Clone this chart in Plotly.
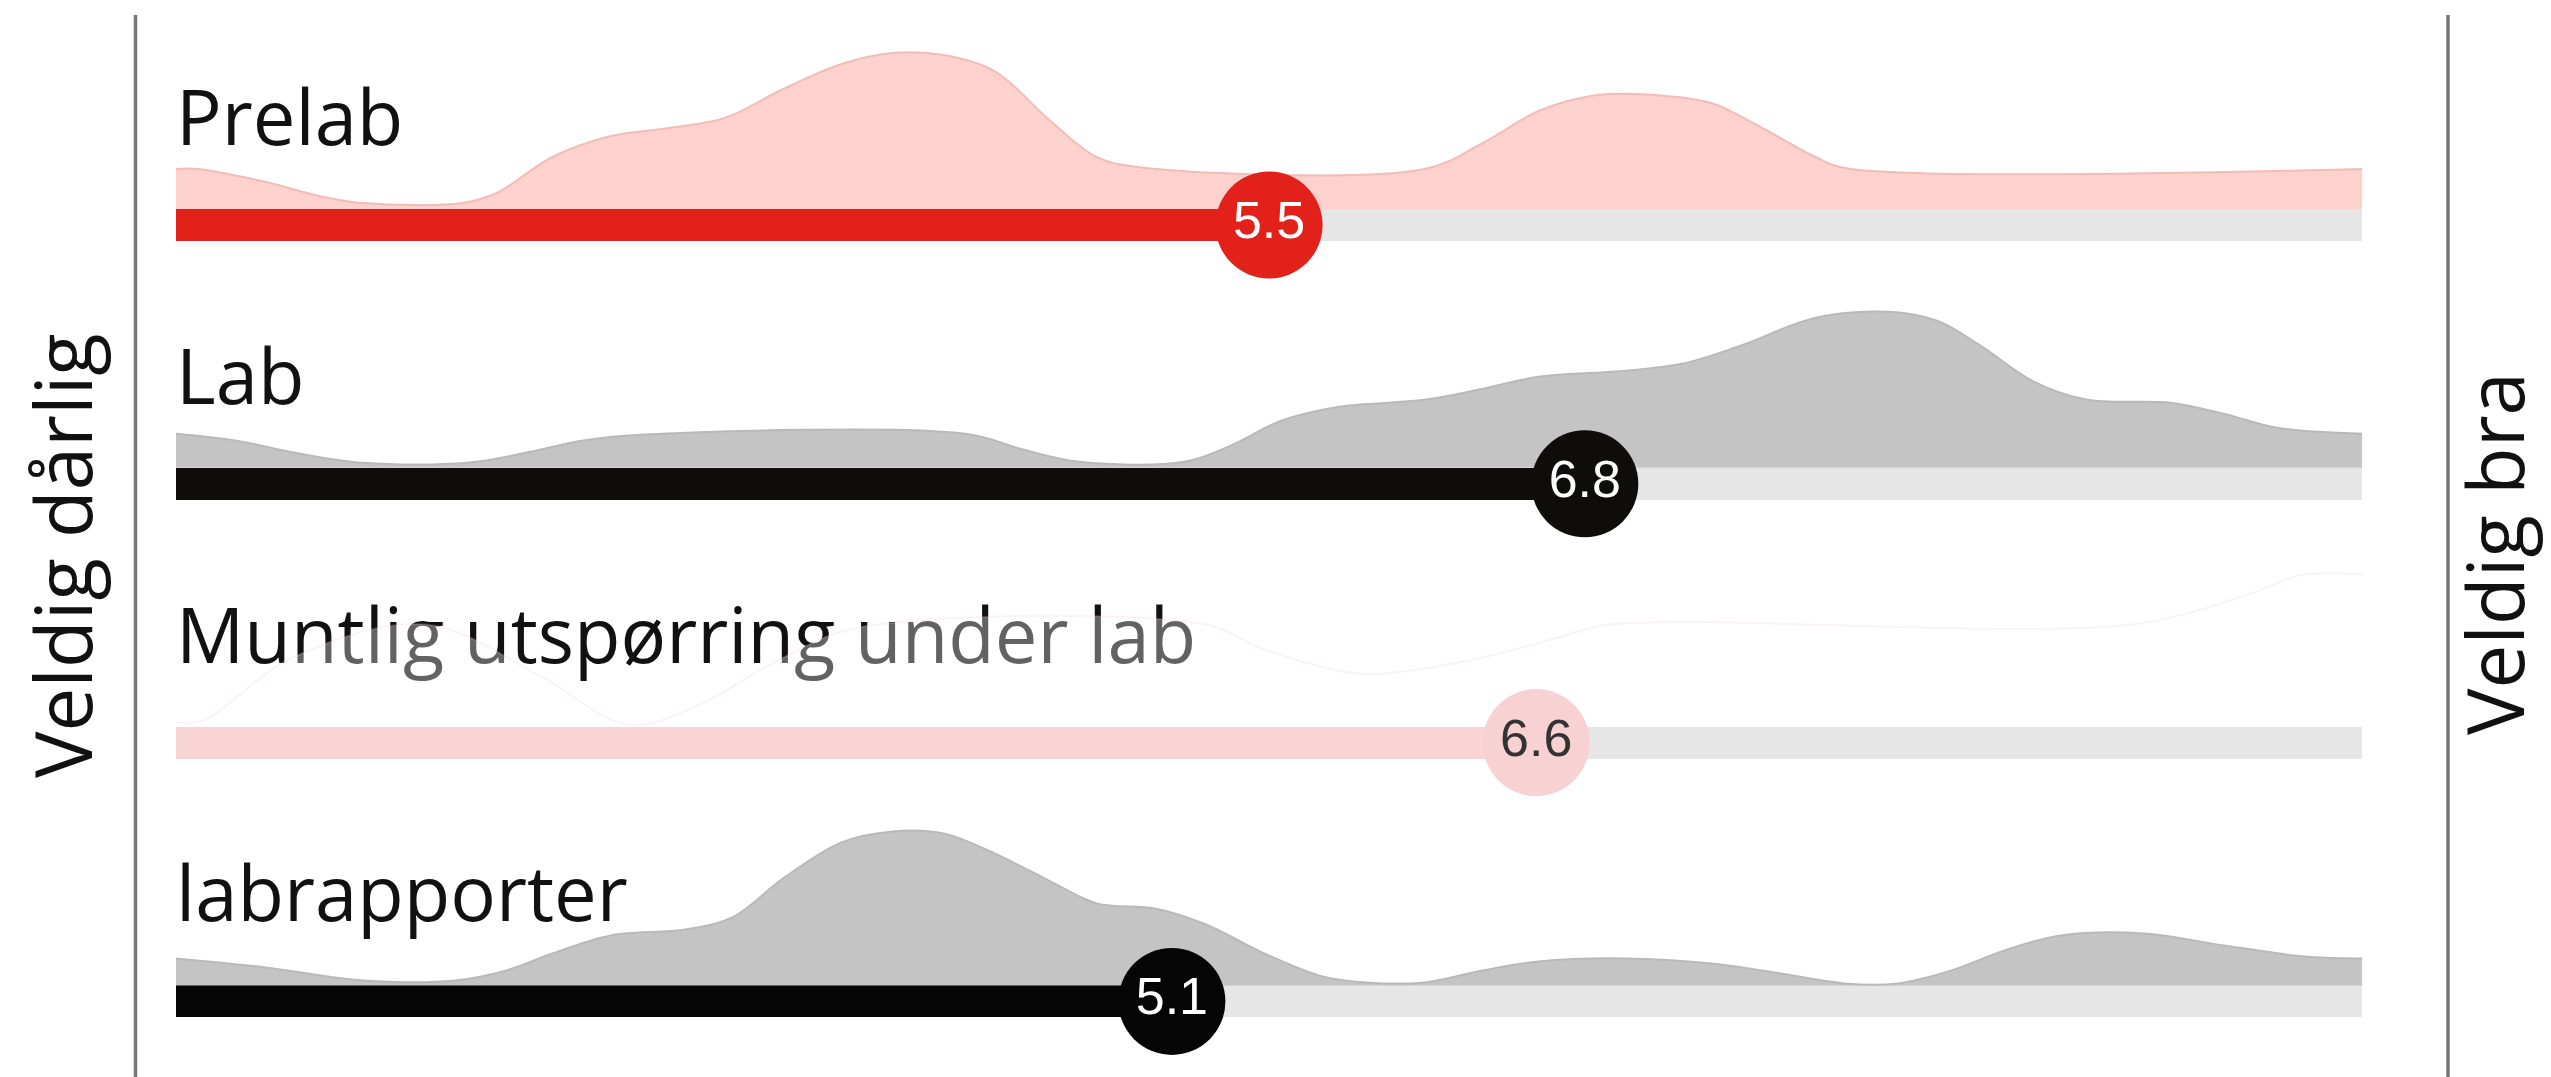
import plotly.graph_objects as go

# ---------------- data ----------------
categories = ["Prelab", "Lab", "Muntlig utspørring under lab", "labrapporter"]
means = [5.5, 6.8, 6.6, 5.1]
scale_min, scale_max = 1, 10
end_labels = ["Veldig dårlig", "Veldig bra"]

# density profiles (score, relative density)
prelab_x = [1.00, 1.09, 1.37, 1.59, 1.77, 2.18, 2.32, 2.55, 2.79, 3.03,
            3.26, 3.50, 3.74, 3.95, 4.16, 4.37, 4.60, 4.79, 4.96, 6.14,
            6.38, 6.61, 6.85, 7.09, 7.32, 7.53, 7.75, 7.87, 10.0]
prelab_d = [40, 40, 27, 13, 6, 6, 16, 52, 73, 81,
            91, 120, 145, 156, 154, 138, 88, 52, 42, 40,
            66, 98, 114, 114, 106, 81, 52, 41, 40]

lab_x = [1.00, 1.25, 1.49, 1.77, 2.20, 2.44, 2.67, 2.91, 4.25, 4.49,
         4.72, 5.15, 5.34, 5.55, 5.79, 6.14, 6.38, 6.61, 6.97, 7.20,
         7.44, 7.75, 8.05, 8.25, 8.43, 8.65, 8.87, 9.21, 9.43, 9.65, 10.0]
lab_d = [34, 27, 15, 5, 5, 15, 27, 33, 34, 18,
         6, 6, 22, 47, 61, 68, 79, 91, 97, 104,
         122, 150, 156, 147, 122, 86, 68, 65, 54, 40, 34]

muntlig_x = [1.00, 1.11, 1.48, 2.03, 2.49, 2.86, 3.13, 3.50, 3.81, 5.24,
             5.46, 5.83, 6.01, 6.38, 6.69, 6.90, 9.05, 9.53, 9.76, 10.0]
muntlig_d = [4, 6, 69, 102, 52, 2, 19, 69, 99, 102,
             79, 54, 54, 69, 89, 102, 102, 132, 152, 152]

rapport_x = [1.00, 1.37, 1.77, 2.15, 2.36, 2.55, 2.79, 3.10, 3.29, 3.50,
             3.74, 3.95, 4.16, 4.37, 4.60, 4.79, 5.03, 5.24, 5.48, 5.72,
             5.90, 6.14, 6.38, 6.61, 6.97, 7.32, 7.53, 7.87, 8.09, 8.31,
             8.54, 8.76, 9.10, 9.43, 9.76, 10.0]
rapport_d = [27, 18, 5, 5, 15, 32, 50, 56, 68, 107,
             143, 154, 152, 132, 104, 82, 77, 61, 32, 9,
             3, 3, 15, 24, 27, 22, 15, 2, 2, 15,
             36, 50, 52, 40, 29, 27]

dens_x = [prelab_x, lab_x, muntlig_x, rapport_x]
dens_d = [prelab_d, lab_d, muntlig_d, rapport_d]

# ---------------- styling / layout ----------------
W, H = 2551, 1077
X0_PX, UNIT_PX = 168, 242.9           # pixel of score 1, pixels per score unit
ROW_TOP0, ROW_STEP = 201, 258.8       # top of first bar, spacing between rows
BAR_H = 32
DENS_SCALE = 1.0
LABEL_FONT = "Open Sans"

bar_colors = ["#e2211a", "#0e0d09", "#f8d4d4", "#050505"]
track_color = "#e6e6e6"
dens_fill = ["#fdd1cc", "#c4c4c4", "rgba(255,255,255,0.34)", "#c4c4c4"]
dens_line = ["#f3bcb6", "#b9b9b9", "rgba(236,196,196,0.22)", "#b9b9b9"]
dot_colors = ["#e2211a", "#0e0d09", "#f8d2d2", "#050505"]
dot_text_colors = ["#ffffff", "#ffffff", "#333333", "#ffffff"]

fig = go.Figure()

row_tops = [ROW_TOP0 + i * ROW_STEP for i in range(len(categories))]

# tracks and value bars
for i, cat in enumerate(categories):
    yc = row_tops[i] + BAR_H / 2
    fig.add_trace(go.Bar(orientation="h", y=[yc], x=[scale_max - scale_min],
                         base=[scale_min], width=BAR_H,
                         marker=dict(color=track_color, line=dict(width=0)),
                         hoverinfo="skip", showlegend=False))
    fig.add_trace(go.Bar(orientation="h", y=[yc], x=[means[i] - scale_min],
                         base=[scale_min], width=BAR_H,
                         marker=dict(color=bar_colors[i], line=dict(width=0)),
                         hoverinfo="skip", showlegend=False))

# row labels (as trace text so the translucent density can sit above it)
fig.add_trace(go.Scatter(
    x=[scale_min] * len(categories),
    y=[t - 83 for t in row_tops],
    mode="text", text=categories, textposition="middle right",
    textfont=dict(family=LABEL_FONT, size=76, color="#111111"),
    hoverinfo="skip", showlegend=False, cliponaxis=False))

# densities
for i, cat in enumerate(categories):
    top = row_tops[i]
    xs = dens_x[i]
    fig.add_trace(go.Scatter(x=[xs[0], xs[-1]], y=[top, top], mode="lines",
                             line=dict(width=0, color="rgba(0,0,0,0)"),
                             hoverinfo="skip", showlegend=False))
    fig.add_trace(go.Scatter(x=xs, y=[top - d * DENS_SCALE for d in dens_d[i]],
                             mode="lines", fill="tonexty",
                             fillcolor=dens_fill[i],
                             line=dict(color=dens_line[i], width=2,
                                       shape="spline", smoothing=1.0),
                             hoverinfo="skip", showlegend=False))

# mean dots
for i, cat in enumerate(categories):
    yc = row_tops[i] + BAR_H / 2
    fig.add_trace(go.Scatter(
        x=[means[i]], y=[yc], mode="markers+text",
        text=[f"{means[i]:.1f}"], textposition="middle center",
        marker=dict(size=107, color=dot_colors[i], line=dict(width=0)),
        textfont=dict(family="Liberation Sans", size=52, color=dot_text_colors[i]),
        hoverinfo="skip", showlegend=False, cliponaxis=False))

x_lo = scale_min - X0_PX / UNIT_PX
x_hi = scale_min + (W - X0_PX) / UNIT_PX

fig.update_layout(
    width=W, height=H,
    margin=dict(l=0, r=0, t=0, b=0),
    paper_bgcolor="white", plot_bgcolor="white",
    barmode="overlay", bargap=0,
    xaxis=dict(range=[x_lo, x_hi], visible=False, fixedrange=True),
    yaxis=dict(range=[H, 0], visible=False, fixedrange=True),
    shapes=[
        dict(type="line", xref="paper", yref="paper",
             x0=127.5 / W, x1=127.5 / W, y0=0, y1=1 - 7 / H,
             line=dict(color="#777777", width=3.5)),
        dict(type="line", xref="paper", yref="paper",
             x0=2440 / W, x1=2440 / W, y0=0, y1=1 - 7 / H,
             line=dict(color="#777777", width=3.5)),
    ],
    annotations=[
        dict(text=end_labels[0], xref="paper", yref="y",
             x=54 / W, y=548, xanchor="center", yanchor="middle",
             textangle=-90, showarrow=False,
             font=dict(family=LABEL_FONT, size=78, color="#111111")),
        dict(text=end_labels[1], xref="paper", yref="y",
             x=2486 / W, y=546, xanchor="center", yanchor="middle",
             textangle=-90, showarrow=False,
             font=dict(family=LABEL_FONT, size=78, color="#111111")),
    ],
)

fig.write_html("out.html")
